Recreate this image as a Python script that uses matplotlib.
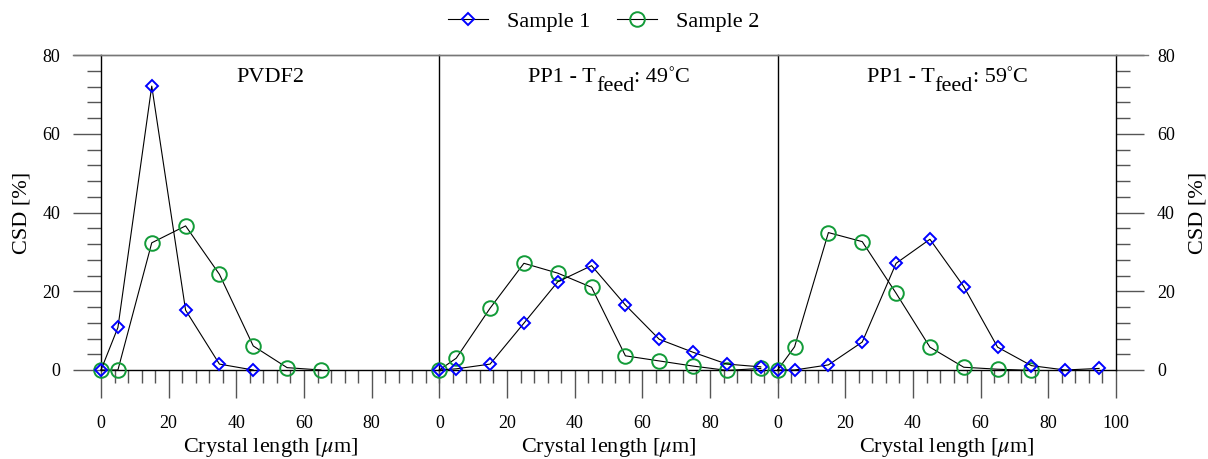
import matplotlib
matplotlib.use("Agg")
import matplotlib.pyplot as plt
from matplotlib.ticker import MultipleLocator, FixedLocator
from matplotlib.lines import Line2D
from matplotlib.transforms import offset_copy

plt.rcParams['font.family'] = ['Liberation Serif', 'DejaVu Serif']
plt.rcParams['mathtext.fontset'] = 'stix'

# ---- data ----
# title pieces: (text, vertical offset in pt, size in pt)
titles = [
    [("PVDF2", 0, 16)],
    [("PP1 - T", 0, 16), ("feed", -6.5, 16), (": 49", 0, 16), ("°", 4.5, 10), ("C", 0, 16)],
    [("PP1 - T", 0, 16), ("feed", -6.5, 16), (": 59", 0, 16), ("°", 4.5, 10), ("C", 0, 16)],
]

x_pvdf_s1 = [0, 5, 15, 25, 35, 45]
y_pvdf_s1 = [0, 10.8, 72.1, 15.2, 1.5, 0.0]
x_pvdf_s2 = [0, 5, 15, 25, 35, 45, 55, 65]
y_pvdf_s2 = [0, 0, 32.3, 36.6, 24.3, 6.1, 0.6, 0.0]

x_pp49_s1 = [0, 5, 15, 25, 35, 45, 55, 65, 75, 85, 95]
y_pp49_s1 = [0, 0.3, 1.5, 11.9, 22.4, 26.5, 16.5, 7.8, 4.5, 1.5, 0.8]
x_pp49_s2 = [0, 5, 15, 25, 35, 45, 55, 65, 75, 85, 95]
y_pp49_s2 = [0, 3.0, 15.7, 27.1, 24.6, 21.0, 3.6, 2.3, 1.0, -0.1, 0.4]

x_pp59_s1 = [0, 5, 15, 25, 35, 45, 55, 65, 75, 85, 95]
y_pp59_s1 = [0, 0.0, 1.3, 7.1, 27.1, 33.2, 21.2, 5.8, 1.1, 0.0, 0.4]
x_pp59_s2 = [0, 5, 15, 25, 35, 45, 55, 65, 75]
y_pp59_s2 = [0, 5.9, 34.9, 32.6, 19.5, 5.8, 0.7, 0.2, -0.1]

panels = [
    (x_pvdf_s1, y_pvdf_s1, x_pvdf_s2, y_pvdf_s2),
    (x_pp49_s1, y_pp49_s1, x_pp49_s2, y_pp49_s2),
    (x_pp59_s1, y_pp59_s1, x_pp59_s2, y_pp59_s2),
]
series_labels = ["Sample 1", "Sample 2"]

xlabel = r"Crystal length [$\mu$m]"
ylabel = "CSD [%]"

BLUE = "#0000ff"
GREEN = "#129b38"
TICKC = "#555555"

W, H = 1208, 459
fig = plt.figure(figsize=(W / 100, H / 100), dpi=100)
renderer = fig.canvas.get_renderer()

left_px, right_px = 101, 1116
top_px, bot_px = 55, 370
pw = (right_px - left_px) / 3.0

axes = []
for i in range(3):
    x0 = (left_px + i * pw) / W
    ax = fig.add_axes([x0, (H - bot_px) / H, pw / W, (bot_px - top_px) / H])
    axes.append(ax)
    xs1, ys1, xs2, ys2 = panels[i]
    ax.plot(xs1, ys1, color='black', lw=0.8, marker='D', ms=6.5, mfc='none',
            mec=BLUE, mew=1.4, zorder=4, clip_on=False, label=series_labels[0])
    ax.plot(xs2, ys2, color='black', lw=0.8, marker='o', ms=10.5, mfc='none',
            mec=GREEN, mew=1.4, zorder=3, clip_on=False, label=series_labels[1])
    ax.set_xlim(0, 100)
    ax.set_ylim(0, 80)
    if i < 2:
        ax.xaxis.set_major_locator(FixedLocator([0, 20, 40, 60, 80]))
    else:
        ax.xaxis.set_major_locator(FixedLocator([0, 20, 40, 60, 80, 100]))
    ax.xaxis.set_minor_locator(MultipleLocator(4))
    ax.yaxis.set_major_locator(MultipleLocator(20))
    ax.yaxis.set_minor_locator(MultipleLocator(4))
    ax.tick_params(axis='x', which='major', direction='out', length=20, width=1.0,
                   color=TICKC, labelsize=13, pad=12.5)
    ax.tick_params(axis='x', which='minor', direction='out', length=9, width=1.0, color=TICKC)
    ax.set_xlabel(xlabel, fontsize=16, labelpad=2.5)
    for s in ['left', 'right', 'top', 'bottom']:
        ax.spines[s].set_linewidth(1.0)
    ax.spines['top'].set_color('#777777')
    ax.spines['right'].set_visible(False)
    if i == 0:
        ax.tick_params(axis='y', which='major', direction='out', length=20, width=1.0,
                       color=TICKC, labelsize=13, pad=9.5, left=True, right=False)
        ax.tick_params(axis='y', which='minor', direction='out', length=10, width=1.0,
                       color=TICKC, left=True, right=False)
        ax.set_ylabel(ylabel, fontsize=16, labelpad=8)
    elif i == 1:
        ax.tick_params(axis='y', which='both', left=False, right=False,
                       labelleft=False, labelright=False)
    else:
        ax.spines['right'].set_visible(True)
        ax.yaxis.set_label_position('right')
        ax.tick_params(axis='y', which='major', direction='out', length=20, width=1.0,
                       color=TICKC, labelsize=13, pad=9.5, left=False, right=True,
                       labelleft=False, labelright=True)
        ax.tick_params(axis='y', which='minor', direction='out', length=10, width=1.0,
                       color=TICKC, left=False, right=True)
        ax.set_ylabel(ylabel, fontsize=16, labelpad=10)

    # title built from pieces (full-size lowered subscript, small raised degree)
    pieces = titles[i]
    widths = []
    for txt, dy, sz in pieces:
        t = fig.text(0, 0, txt, fontsize=sz)
        widths.append(t.get_window_extent(renderer).width * 72.0 / fig.dpi)
        t.remove()
    total = sum(widths)
    xpos = -total / 2.0
    for (txt, dy, sz), wdt in zip(pieces, widths):
        tr = offset_copy(ax.transAxes, fig=fig, x=xpos, y=dy, units='points')
        ax.text(0.5, 0.914, txt, transform=tr, ha='left', va='baseline', fontsize=sz)
        xpos += wdt

# top frame line extends across the tick zones
fig.add_artist(Line2D([73 / W, 1148 / W], [(H - top_px) / H] * 2, color='#777777', lw=1.0))

handles, labels = axes[0].get_legend_handles_labels()
fig.legend(handles, labels, loc='center', bbox_to_anchor=(0.5, 1 - 22 / H), ncol=2,
           frameon=False, fontsize=16, handlelength=1.8, columnspacing=1.2,
           handletextpad=0.85)

fig.savefig("out.png", dpi=100)
